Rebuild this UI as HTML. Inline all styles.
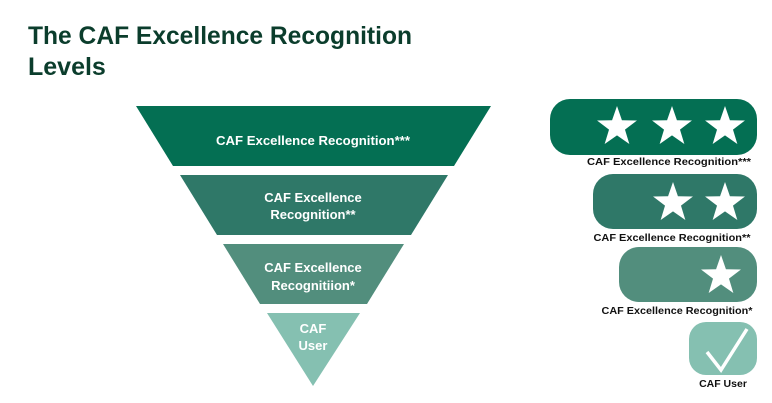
<!DOCTYPE html>
<html><head><meta charset="utf-8"><style>
body{margin:0;background:#fff;}
svg{display:block;font-family:"Liberation Sans",sans-serif;font-weight:bold;}
</style></head><body>
<svg width="772" height="403" viewBox="0 0 772 403" xmlns="http://www.w3.org/2000/svg">
<defs>
<polygon id="st" fill="#fff" points="0,-1 0.235,-0.324 0.951,-0.309 0.38,0.124 0.588,0.809 0,0.4 -0.588,0.809 -0.38,0.124 -0.951,-0.309 -0.235,-0.324"/>
</defs>
<text x="28" y="44" font-size="25" fill="#0b3d2c" textLength="384" lengthAdjust="spacingAndGlyphs">The CAF Excellence Recognition</text>
<text x="28" y="75" font-size="25" fill="#0b3d2c">Levels</text>

<polygon points="136,106 491,106 454,166 173,166" fill="#046f53"/>
<polygon points="180,175 448,175 411,235 217,235" fill="#2f7868"/>
<polygon points="223,244 404,244 367,304 260,304" fill="#528e7d"/>
<polygon points="267,313 360,313 313,386" fill="#85c0b1"/>
<g fill="#fff" font-size="13" text-anchor="middle">
<text x="313" y="145" textLength="194" lengthAdjust="spacingAndGlyphs">CAF Excellence Recognition***</text>
<text x="313" y="202">CAF Excellence</text>
<text x="313" y="219">Recognition**</text>
<text x="313" y="272">CAF Excellence</text>
<text x="313" y="290">Recognitiion*</text>
<text x="313" y="333">CAF</text>
<text x="313" y="350">User</text>
</g>

<rect x="550" y="99" width="207" height="56" rx="20" fill="#046f53"/>
<use href="#st" transform="translate(617,127) scale(21)"/>
<use href="#st" transform="translate(672,127) scale(21)"/>
<use href="#st" transform="translate(725,127) scale(21)"/>
<rect x="593" y="174" width="164" height="55" rx="20" fill="#2f7868"/>
<use href="#st" transform="translate(673,203) scale(21)"/>
<use href="#st" transform="translate(725,203) scale(21)"/>
<rect x="619" y="247" width="138" height="55" rx="20" fill="#528e7d"/>
<use href="#st" transform="translate(721,276) scale(21)"/>
<rect x="689" y="322" width="68" height="53" rx="17" fill="#85c0b1"/>
<path d="M707,352 L721,370 L747,329" stroke="#fff" stroke-width="3.5" fill="none" stroke-linejoin="miter"/>

<g fill="#111" font-size="10.5" text-anchor="middle">
<text x="669" y="165" textLength="164" lengthAdjust="spacingAndGlyphs">CAF Excellence Recognition***</text>
<text x="672" y="241" textLength="157" lengthAdjust="spacingAndGlyphs">CAF Excellence Recognition**</text>
<text x="677" y="314" textLength="151" lengthAdjust="spacingAndGlyphs">CAF Excellence Recognition*</text>
<text x="723" y="387">CAF User</text>
</g>
</svg>
</body></html>
